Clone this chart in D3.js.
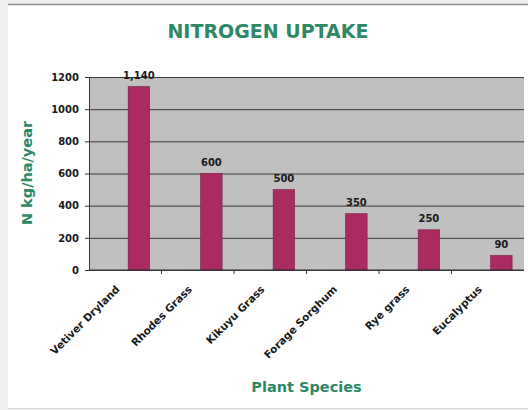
<!DOCTYPE html>
<html>
<head>
<meta charset="utf-8">
<script src="https://cdn.jsdelivr.net/npm/d3@7"></script>
<style>
  html, body { margin: 0; padding: 0; background: #efefef; }
  svg { display: block; }
</style>
</head>
<body>
<div id="canvas"></div>
<script>
// ----- data -----
const species = ["Vetiver Dryland", "Rhodes Grass", "Kikuyu Grass", "Forage Sorghum", "Rye grass", "Eucalyptus"];
const uptake = [1140, 600, 500, 350, 250, 90];
const yTicks = [0, 200, 400, 600, 800, 1000, 1200];

const W = 528, H = 410;
const plot = { left: 89, right: 524, top: 77, bottom: 270 };
const green = "#2d8866";

const svg = d3.select("#canvas").append("svg")
  .attr("width", W).attr("height", H)
  .style("font-family", "'DejaVu Sans', sans-serif");

// outer frame: grey strip on left, white panel
svg.append("rect").attr("x", 0).attr("y", 0).attr("width", W).attr("height", H).attr("fill", "#efefef");
svg.append("rect").attr("x", 8).attr("y", 5).attr("width", W - 8).attr("height", 403).attr("fill", "#ffffff");
svg.append("line").attr("x1", 8).attr("x2", W).attr("y1", 4.5).attr("y2", 4.5).attr("stroke", "#8a8a8a").attr("stroke-width", 1.5);
svg.append("line").attr("x1", 8).attr("x2", W).attr("y1", 408.5).attr("y2", 408.5).attr("stroke", "#d8d8d8");

// scales
const x = d3.scaleBand().domain(species).range([plot.left, plot.right]).padding(0);
const y = d3.scaleLinear().domain([0, 1200]).range([plot.bottom, plot.top]);

// plot background
svg.append("rect")
  .attr("x", plot.left).attr("y", plot.top)
  .attr("width", plot.right - plot.left).attr("height", plot.bottom - plot.top)
  .attr("fill", "#c0c0c0");

// gridlines
svg.append("g")
  .attr("transform", `translate(${plot.left},0)`)
  .call(d3.axisLeft(y).tickValues(yTicks).tickSize(-(plot.right - plot.left)).tickFormat(""))
  .call(g => g.select(".domain").remove())
  .call(g => g.selectAll("line").attr("stroke", "#3a3a3a").attr("stroke-width", 1));

// bars
const bw = x.bandwidth();
svg.append("g").selectAll("rect")
  .data(species)
  .join("rect")
  .attr("x", (d) => x(d) + bw * 0.54)
  .attr("width", bw * 0.296)
  .attr("y", (d, i) => y(uptake[i]))
  .attr("height", (d, i) => y(0) - y(uptake[i]))
  .attr("fill", "#aa2a62")
  .attr("stroke", "#7a1a45")
  .attr("stroke-width", 0.6);

// value labels
const fmt = d3.format(",");
svg.append("g").selectAll("text")
  .data(species)
  .join("text")
  .attr("x", (d) => x(d) + bw * 0.688)
  .attr("y", (d, i) => y(uptake[i]) - 8)
  .attr("text-anchor", "middle")
  .attr("font-size", 10).attr("font-weight", "bold")
  .attr("fill", "#1a1a1a")
  .text((d, i) => fmt(uptake[i]));

// y axis
svg.append("g")
  .attr("transform", `translate(${plot.left},0)`)
  .call(d3.axisLeft(y).tickValues(yTicks).tickSize(4).tickPadding(6).tickFormat(d3.format("d")))
  .call(g => g.select(".domain").attr("stroke", "#333"))
  .call(g => g.selectAll("line").attr("stroke", "#333"))
  .call(g => g.selectAll("text").attr("font-size", 10).attr("font-weight", "bold").attr("fill", "#1a1a1a")
    .attr("font-family", "'DejaVu Sans', sans-serif"));

// x axis baseline + ticks between categories
svg.append("line")
  .attr("x1", plot.left).attr("x2", plot.right)
  .attr("y1", y(0)).attr("y2", y(0))
  .attr("stroke", "#333");
svg.append("g").selectAll("line")
  .data(species.slice(1))
  .join("line")
  .attr("x1", (d) => x(d)).attr("x2", (d) => x(d))
  .attr("y1", y(0)).attr("y2", y(0) + 4)
  .attr("stroke", "#333");

// category labels
svg.append("g").selectAll("text")
  .data(species)
  .join("text")
  .attr("transform", (d) => `translate(${x(d) + bw / 2 - 5},${plot.bottom + 20}) rotate(-45)`)
  .attr("text-anchor", "end")
  .attr("font-size", 10.5).attr("font-weight", "bold")
  .attr("fill", "#1a1a1a")
  .text((d) => d);

// titles
svg.append("text")
  .attr("x", 268).attr("y", 38)
  .attr("text-anchor", "middle")
  .attr("font-size", 19).attr("font-weight", "bold")
  .attr("fill", green)
  .text("NITROGEN UPTAKE");

svg.append("text")
  .attr("x", (plot.left + plot.right) / 2).attr("y", 392)
  .attr("text-anchor", "middle")
  .attr("font-size", 14.5).attr("font-weight", "bold")
  .attr("fill", green)
  .text("Plant Species");

svg.append("text")
  .attr("transform", `translate(32,173) rotate(-90)`)
  .attr("text-anchor", "middle")
  .attr("font-size", 14.5).attr("font-weight", "bold")
  .attr("fill", green)
  .text("N kg/ha/year");
</script>
</body>
</html>
